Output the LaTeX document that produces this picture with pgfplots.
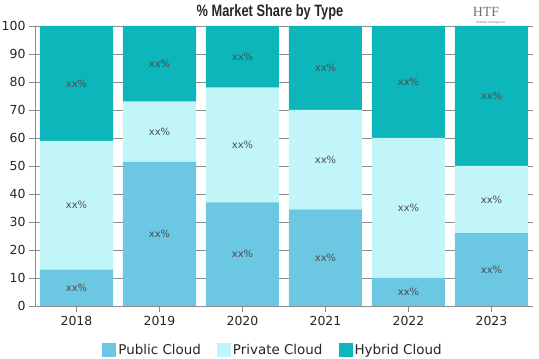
\documentclass[border=0pt]{standalone}
\usepackage{pgfplots}
\pgfplotsset{compat=1.18}
\usepackage{pgfplotstable}
\usepackage{fontspec}
\setmainfont{DejaVu Sans}
\newfontfamily\titlefont[FakeStretch=0.78]{Liberation Sans Bold}
\newfontfamily\logofont{Liberation Serif}
\definecolor{pubc}{HTML}{6CC8E2}
\definecolor{pric}{HTML}{C2F5F7}
\definecolor{hybc}{HTML}{0CB6BA}
\definecolor{gridc}{HTML}{8C8C8C}
\pgfplotstableread{
x pub pri hyb
0 13 46 41
1 51.5 21.5 27
2 37 41 22
3 34.5 35.5 30
4 10 50 40
5 26 24 50
}\datatable
\begin{document}
\begin{tikzpicture}
\begin{axis}[
  at={(0,0)}, anchor=south west,
  scale only axis, width=498bp, height=280bp,
  ybar stacked, bar width=73bp,
  xmin=-0.5, xmax=5.5, ymin=0, ymax=100,
  enlargelimits=false,
  xtick=data, xticklabels={2018,2019,2020,2021,2022,2023},
  ytick={0,10,...,100},
  ymajorgrids, grid style={gridc, line width=0.6pt},
  axis line style={gridc, line width=0.8pt},
  axis x line*=bottom, axis y line*=left,
  tick style={gridc, line width=0.6pt},
  tick align=outside, major tick length=6bp,
  ticklabel style={font=\fontsize{12.5}{14}\selectfont, text=black!85},
  /pgf/number format/assume math mode=true,
  xticklabel style={yshift=-1bp},
  legend style={at={(0.478,-0.12)}, anchor=north, draw=none, legend columns=3,
    font=\fontsize{13.5}{15}\selectfont, text=black!85, /tikz/every even column/.append style={column sep=14bp}},
  legend image code/.code={\fill[#1] (0bp,-7bp) rectangle (14bp,7bp);},
  nodes near coords={xx\%},
  every node near coord/.append style={anchor=center, font=\fontsize{10}{12}\selectfont, text=black!70},
]
\addplot[fill=pubc, draw=none] table[x=x, y=pub] {\datatable};
\addplot[fill=pric, draw=none] table[x=x, y=pri] {\datatable};
\addplot[fill=hybc, draw=none] table[x=x, y=hyb] {\datatable};
\legend{Public Cloud, Private Cloud, Hybrid Cloud}
\end{axis}
\node[font=\titlefont\fontsize{16.5}{18}\selectfont, text=black!85] at (235bp,294bp) {\% Market Share by Type};
\node[font=\logofont\fontsize{14}{15}\selectfont, text=black!55] at (451bp,294bp) {HTF};
\node[font=\fontsize{3}{4}\selectfont, text=black!55] at (456bp,283bp) {Market Intelligence};
\pgfresetboundingbox
\path[use as bounding box] (-35bp,-53bp) rectangle (504bp,306bp);
\end{tikzpicture}
\end{document}
